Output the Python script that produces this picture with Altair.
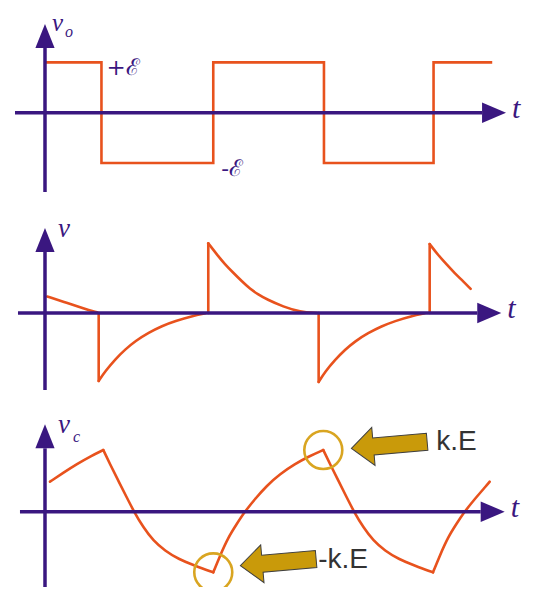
import altair as alt
import pandas as pd

# ---------------- data (time in half-periods, voltage in units of E) ----------------
# panel 1: square wave v_o
sq_t = [0.0, 0.51, 1.52, 2.52, 3.51, 4.04]
sq_v = [1, -1, 1, -1, 1, 1]

# panel 2: v (differentiated spikes), smooth segments + vertical jumps
vr_t = [
    [0.02, 0.20, 0.35, 0.47],
    [0.485, 0.545, 0.635, 0.725, 0.816, 0.937, 1.057, 1.177, 1.328, 1.448],
    [1.475, 1.551, 1.626, 1.701, 1.777, 1.852, 1.927, 2.003, 2.153, 2.304, 2.454],
    [2.472, 2.53, 2.62, 2.71, 2.80, 2.92, 3.04, 3.16, 3.31, 3.43],
    [3.475, 3.55, 3.63, 3.70, 3.78, 3.845],
]
vr_v = [
    [0.47, 0.29, 0.13, 0.02],
    [-1.94, -1.66, -1.32, -1.04, -0.80, -0.56, -0.37, -0.23, -0.09, -0.01],
    [1.99, 1.68, 1.39, 1.15, 0.91, 0.69, 0.53, 0.39, 0.18, 0.03, 0.0],
    [-1.97, -1.68, -1.34, -1.05, -0.81, -0.57, -0.38, -0.23, -0.09, -0.01],
    [1.97, 1.66, 1.38, 1.14, 0.90, 0.69],
]
vr_jump_t = [0.485, 1.475, 2.472, 3.475]
vr_jump_v = [-1.94, 1.99, -1.97, 1.97]

# panel 3: v_c (capacitor voltage)
vc_t = [
    [0.045, 0.163, 0.289, 0.416, 0.527],
    [0.527, 0.587, 0.662, 0.738, 0.807, 0.888, 0.978, 1.084, 1.204, 1.355, 1.520],
    [1.520, 1.581, 1.656, 1.732, 1.800, 1.897, 2.003, 2.123, 2.258, 2.379, 2.514],
    [2.514, 2.575, 2.650, 2.725, 2.794, 2.875, 2.966, 3.071, 3.192, 3.342, 3.505],
    [3.505, 3.566, 3.640, 3.716, 3.785, 3.882, 3.987, 4.017],
]
vc_v = [
    [0.375, 0.484, 0.596, 0.696, 0.771],
    [0.771, 0.596, 0.388, 0.180, -0.008, -0.195, -0.363, -0.488, -0.591, -0.675, -0.758],
    [-0.758, -0.550, -0.320, -0.154, -0.008, 0.159, 0.325, 0.471, 0.596, 0.688, 0.771],
    [0.771, 0.596, 0.388, 0.180, -0.008, -0.195, -0.363, -0.488, -0.591, -0.675, -0.758],
    [-0.758, -0.550, -0.320, -0.154, -0.008, 0.159, 0.325, 0.375],
]
# annotated extremes: (segment, index) of +kE peak and -kE trough
mark_labels = ["k.E", "-k.E"]
mark_refs = [(2, -1), (1, -1)]

# axis extents (time axis: left end, arrow base; vertical axis: bottom, arrow base)
axis_t = [(-0.271, 3.948), (-0.244, 3.905), (-0.226, 3.936)]
axis_v = [(-1.577, 1.286), (-2.2, 1.743), (-0.979, 0.7925)]
y_domains = [[-1.8748, 2.0815], [-2.6286, 3.0286], [-0.94125, 1.3338]]
panel_heights = [199, 198, 182]
T_DOMAIN = [-0.3342, 4.5619]
W = 542

PURPLE = "#3A1780"
ORANGE = "#E8521D"
GOLD = "#D9A521"
ARROW_FILL = "#C99A0A"
ARROW_STROKE = "#3F3F3F"
TEXT_GRAY = "#333333"

UP_HEAD = "M 0 -2 L 0.8 0 L -0.8 0 Z"
RIGHT_HEAD = "M 2 0 L 0 -0.85 L 0 0.85 Z"
BIG_ARROW = ("M -1 0 L -0.42 -0.5 L -0.42 -0.224 L 1 -0.224 L 1 0.224 "
             "L -0.42 0.224 L -0.42 0.5 Z")


def X(field):
    return alt.X(field, type="quantitative",
                 scale=alt.Scale(domain=T_DOMAIN, nice=False, zero=False), axis=None)


def Y(field, dom):
    return alt.Y(field, type="quantitative",
                 scale=alt.Scale(domain=dom, nice=False, zero=False), axis=None)


def axis_layers(i):
    dom = y_domains[i]
    hdf = pd.DataFrame({"t0": [axis_t[i][0]], "t1": [axis_t[i][1]], "v": [0.0]})
    vdf = pd.DataFrame({"t": [0.0], "v0": [axis_v[i][0]], "v1": [axis_v[i][1]]})
    hl = alt.Chart(hdf).mark_rule(color=PURPLE, strokeWidth=3.5).encode(
        x=X("t0"), x2="t1", y=Y("v", dom))
    vl = alt.Chart(vdf).mark_rule(color=PURPLE, strokeWidth=3.5, clip=True).encode(
        x=X("t"), y=Y("v0", dom), y2="v1")
    hh = alt.Chart(hdf).mark_point(shape=RIGHT_HEAD, size=576, filled=True, color=PURPLE,
                                   opacity=1, strokeWidth=0).encode(x=X("t1"), y=Y("v", dom))
    vh = alt.Chart(vdf).mark_point(shape=UP_HEAD, size=576, filled=True, color=PURPLE,
                                   opacity=1, strokeWidth=0).encode(x=X("t"), y=Y("v1", dom))
    return [hl, vl, hh, vh]


def label(text, t, v, dom, dx, dy, size, font="Liberation Serif", style="italic",
          color=PURPLE):
    df = pd.DataFrame({"t": [t], "v": [v], "s": [text]})
    return alt.Chart(df).mark_text(align="left", baseline="alphabetic", dx=dx, dy=dy,
                                   fontSize=size, font=font, fontStyle=style,
                                   color=color).encode(x=X("t"), y=Y("v", dom), text="s:N")


def axis_labels(i, sub):
    dom = y_domains[i]
    out = [label("v", 0.0, axis_v[i][1], dom, 7 if i == 0 else 13, -17 if i == 0 else -15,
                 25 if i == 0 else 27),
           label("t", axis_t[i][1], 0.0, dom, 30, 5, 30)]
    if sub:
        out.append(label(sub, 0.0, axis_v[i][1], dom, 20 if i == 0 else 28,
                         -11 if i == 0 else -6, 16))
    return out


# ---------------- panel 1 ----------------
d1 = y_domains[0]
sq_df = pd.DataFrame({"t": sq_t, "v": sq_v})
sq_line = alt.Chart(sq_df).mark_line(color=ORANGE, strokeWidth=2.6,
                                     interpolate="step-after").encode(x=X("t"), y=Y("v", d1))
p1 = alt.layer(
    sq_line,
    *axis_layers(0),
    *axis_labels(0, "o"),
    label("+ℰ", sq_t[1], 1, d1, 5, 13, 23, font="DejaVu Serif", style="normal"),
    label("-ℰ", sq_t[2], -1, d1, 8, 13, 23, font="DejaVu Serif", style="normal"),
).properties(width=W, height=panel_heights[0])

# ---------------- panel 2 ----------------
d2 = y_domains[1]
vr_rows = [{"t": t, "v": v, "seg": k} for k, (ts, vs) in enumerate(zip(vr_t, vr_v))
           for t, v in zip(ts, vs)]
vr_df = pd.DataFrame(vr_rows)
jump_df = pd.DataFrame({"t": vr_jump_t, "v0": [0.0] * len(vr_jump_t), "v1": vr_jump_v})
vr_line = alt.Chart(vr_df).mark_line(color=ORANGE, strokeWidth=2.6, interpolate="basis",
                                     strokeCap="round").encode(
    x=X("t"), y=Y("v", d2), detail="seg:N")
vr_jumps = alt.Chart(jump_df).mark_rule(color=ORANGE, strokeWidth=2.6,
                                        strokeCap="round").encode(
    x=X("t"), y=Y("v0", d2), y2="v1")
p2 = alt.layer(
    vr_line, vr_jumps,
    *axis_layers(1),
    *axis_labels(1, None),
).properties(width=W, height=panel_heights[1])

# ---------------- panel 3 ----------------
d3 = y_domains[2]
vc_rows = [{"t": t, "v": v, "seg": k} for k, (ts, vs) in enumerate(zip(vc_t, vc_v))
           for t, v in zip(ts, vs)]
vc_df = pd.DataFrame(vc_rows)
vc_line = alt.Chart(vc_df).mark_line(color=ORANGE, strokeWidth=2.6, interpolate="basis",
                                     strokeCap="round").encode(
    x=X("t"), y=Y("v", d3), detail="seg:N")

ann_df = pd.DataFrame({
    "t": [vc_t[s][j] for s, j in mark_refs],
    "v": [vc_v[s][j] for s, j in mark_refs],
    "lab": mark_labels,
})
circles = alt.Chart(ann_df).mark_point(shape="circle", size=1444, filled=False, color=GOLD,
                                       strokeWidth=2.6, opacity=1, clip=True).encode(
    x=X("t"), y=Y("v", d3))

arrow_layers = []
text_layers = []
arrow_offsets = [(66, -5), (65, -10)]
text_offsets = [(113, 0), (105, -4)]
for k in range(len(mark_labels)):
    one = ann_df.iloc[[k]]
    arrow_layers.append(
        alt.Chart(one).mark_point(shape=BIG_ARROW, size=5776, filled=True, fill=ARROW_FILL,
                                  stroke=ARROW_STROKE, strokeWidth=1, opacity=1, angle=355,
                                  xOffset=arrow_offsets[k][0], yOffset=arrow_offsets[k][1],
                                  clip=True).encode(x=X("t"), y=Y("v", d3)))
    text_layers.append(
        alt.Chart(one).mark_text(align="left", baseline="alphabetic",
                                 dx=text_offsets[k][0], dy=text_offsets[k][1], fontSize=28,
                                 font="Liberation Sans", color=TEXT_GRAY).encode(
            x=X("t"), y=Y("v", d3), text="lab:N"))

p3 = alt.layer(
    vc_line,
    *axis_layers(2),
    *axis_labels(2, "c"),
    circles, *arrow_layers, *text_layers,
).properties(width=W, height=panel_heights[2])

chart = alt.vconcat(p1, p2, p3, spacing=0).properties(
    padding=0, background="white"
).configure_view(stroke=None)

chart.save("out.html", embed_options={"renderer": "svg", "actions": False})
